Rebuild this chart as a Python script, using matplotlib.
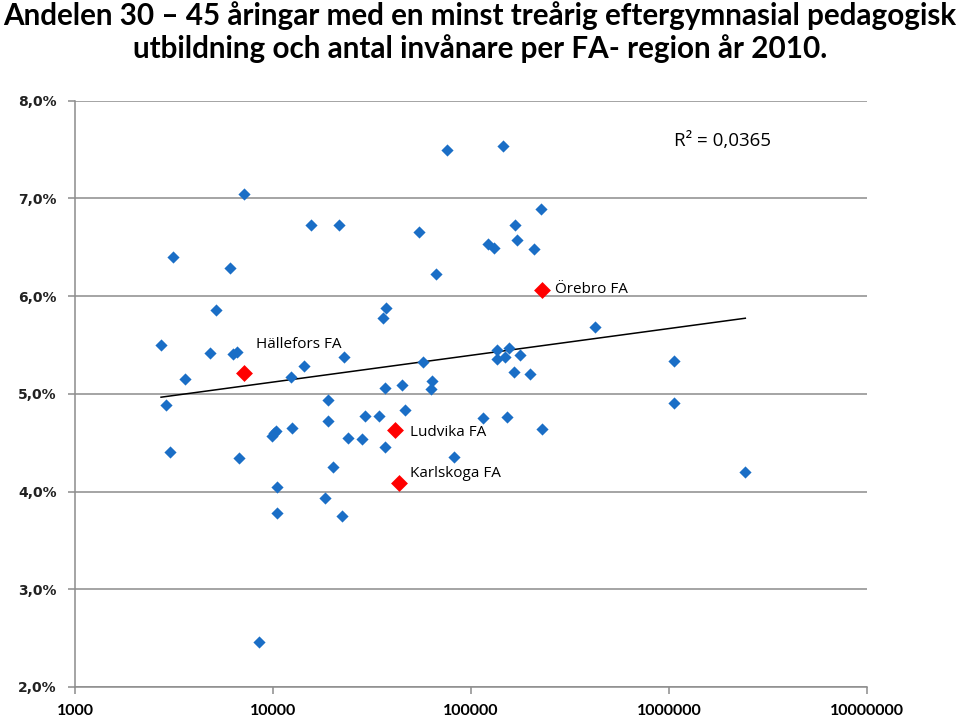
import numpy as np
import matplotlib
matplotlib.use("Agg")
import matplotlib.pyplot as plt
from matplotlib.ticker import FixedLocator, FuncFormatter

# invånare per FA-region (x) och andel 30-45 år med minst treårig eftergymnasial utbildning (y, %)
inv = [2720, 2870, 3030, 3140, 3590, 4790, 5150, 6090, 6260, 6560,
       6760, 7110, 8500, 9920, 10060, 10360, 10440, 10510, 12430, 12330,
       14390, 15610, 18350, 18850, 19000, 20140, 21620, 22390, 22920, 24060,
       28250, 29050, 34190, 36800, 36070, 37000, 36870, 44820, 46420, 54810,
       57220, 63310, 62580, 66560, 75640, 82360, 115400, 122300, 131200, 135800,
       135800, 145100, 148500, 156100, 152500, 166800, 170800, 165500, 177500, 198000,
       208800, 226500, 229100, 424500, 1063600, 1063600, 2429000]
andel = [5.50, 4.89, 4.40, 6.40, 5.15, 5.42, 5.86, 6.29, 5.41, 5.43,
         4.34, 7.04, 2.46, 4.57, 4.60, 4.62, 4.05, 3.78, 4.65, 5.17,
         5.28, 6.73, 3.93, 4.94, 4.72, 4.25, 6.73, 3.75, 5.38, 4.55,
         4.54, 4.77, 4.77, 4.46, 5.77, 5.88, 5.06, 5.09, 4.83, 6.65,
         5.32, 5.13, 5.05, 6.23, 7.49, 4.35, 4.75, 6.53, 6.49, 5.45,
         5.36, 7.53, 5.38, 5.47, 4.76, 6.73, 6.57, 5.22, 5.40, 5.20,
         6.48, 6.89, 4.64, 5.68, 5.33, 4.91, 4.20]

regioner = ["Hällefors FA", "Ludvika FA", "Karlskoga FA", "Örebro FA"]
reg_inv = [7160, 41470, 43440, 228400]
reg_andel = [5.21, 4.63, 4.09, 6.06]
reg_offset = [(12, 29), (15, -3), (11, 9), (13, 1)]

x_ticks = [1000, 10000, 100000, 1000000, 10000000]
y_ticks = [2, 3, 4, 5, 6, 7, 8]

fig = plt.figure(figsize=(9.6, 7.21), dpi=100)
ax = fig.add_axes([75 / 960, 1 - 687 / 721, (867 - 75) / 960, (687 - 100.5) / 721])

ax.set_xscale("log")
ax.set_xlim(1000, 10000000)
ax.set_ylim(2, 8)

grid_c = "#8c8c8c"
ax.grid(axis="y", color=grid_c, linewidth=1.1)
ax.set_axisbelow(True)
for s in ["top", "right"]:
    ax.spines[s].set_visible(False)
for s in ["left", "bottom"]:
    ax.spines[s].set_color(grid_c)
    ax.spines[s].set_linewidth(1.1)

ax.scatter(inv, andel, marker="D", s=6.2 ** 2, color="#1a6ec6", linewidths=0, zorder=3)

# logaritmisk trendlinje
xall = np.array(inv + reg_inv, dtype=float)
yall = np.array(andel + reg_andel)
k, m = np.polyfit(np.log10(xall), yall, 1)
xt = np.array([xall.min(), xall.max()])
ax.plot(xt, k * np.log10(xt) + m, color="black", linewidth=1.1, zorder=2)

ax.scatter(reg_inv, reg_andel, marker="D", s=8.6 ** 2, color="#ff0000", linewidths=0, zorder=4)
for namn, xv, yv, off in zip(regioner, reg_inv, reg_andel, reg_offset):
    ax.annotate(namn, (xv, yv), xytext=off, textcoords="offset pixels",
                ha="left", va="center", fontsize=11, family="Open Sans", zorder=5)

ax.text(674 / 960, 1 - 141 / 721, "R² = 0,0365", transform=fig.transFigure,
        ha="left", va="center", fontsize=13.5, family="Open Sans")

ax.xaxis.set_major_locator(FixedLocator(x_ticks))
ax.xaxis.set_minor_locator(FixedLocator([]))
ax.xaxis.set_major_formatter(FuncFormatter(lambda v, p: "%d" % v))
ax.yaxis.set_major_locator(FixedLocator(y_ticks))
ax.yaxis.set_major_formatter(FuncFormatter(lambda v, p: ("%.1f%%" % v).replace(".", ",")))
ax.tick_params(axis="both", colors=grid_c, length=5, width=1.1, direction="out")
for lab in ax.get_xticklabels():
    lab.set_fontfamily("Lato")
    lab.set_fontweight("bold")
    lab.set_fontsize(11.5)
    lab.set_color("black")
for lab in ax.get_yticklabels():
    lab.set_fontfamily("DejaVu Sans")
    lab.set_fontweight("bold")
    lab.set_fontsize(10)
    lab.set_color("#222222")
ax.tick_params(axis="x", pad=7)
ax.tick_params(axis="y", pad=8)

fig.text(0.5, 1 - 16 / 721, "Andelen 30 – 45 åringar med en minst treårig eftergymnasial pedagogisk",
         ha="center", va="center", fontsize=21.3, fontweight="bold", family="Lato")
fig.text(0.5, 1 - 49 / 721, "utbildning och antal invånare per FA- region år 2010.",
         ha="center", va="center", fontsize=21.3, fontweight="bold", family="Lato")

fig.savefig("out.png", dpi=100)
